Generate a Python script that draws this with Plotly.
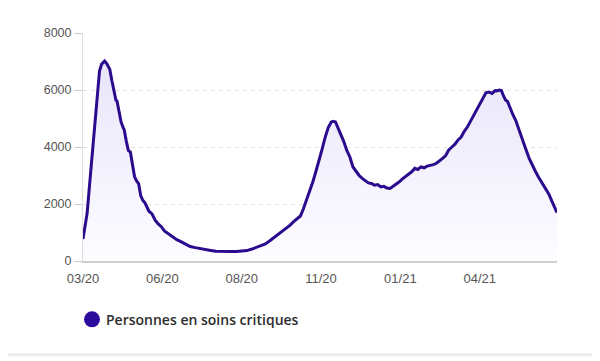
import plotly.graph_objects as go

dates = [
    "2020-03-18", "2020-03-20", "2020-03-22", "2020-03-24", "2020-03-26", "2020-03-28",
    "2020-03-30", "2020-04-01", "2020-04-03", "2020-04-05", "2020-04-08", "2020-04-10",
    "2020-04-12", "2020-04-13", "2020-04-15", "2020-04-17", "2020-04-19", "2020-04-20",
    "2020-04-22", "2020-04-24", "2020-04-26", "2020-04-27", "2020-04-29", "2020-05-01",
    "2020-05-03", "2020-05-05", "2020-05-07", "2020-05-09", "2020-05-11", "2020-05-13",
    "2020-05-15", "2020-05-17", "2020-05-19", "2020-05-21", "2020-05-24", "2020-05-27",
    "2020-05-30", "2020-06-02", "2020-06-05", "2020-06-09", "2020-06-13", "2020-06-17",
    "2020-06-21", "2020-06-25", "2020-06-30", "2020-07-05", "2020-07-10", "2020-07-15",
    "2020-07-20", "2020-07-25", "2020-07-30", "2020-08-04", "2020-08-09", "2020-08-14",
    "2020-08-19", "2020-08-24", "2020-08-29", "2020-09-03", "2020-09-07", "2020-09-11",
    "2020-09-15", "2020-09-19", "2020-09-23", "2020-09-27", "2020-10-01", "2020-10-05",
    "2020-10-09", "2020-10-12", "2020-10-15", "2020-10-18", "2020-10-21", "2020-10-24",
    "2020-10-27", "2020-10-30", "2020-11-02", "2020-11-05", "2020-11-08", "2020-11-11",
    "2020-11-14", "2020-11-16", "2020-11-18", "2020-11-20", "2020-11-23", "2020-11-26",
    "2020-11-29", "2020-12-02", "2020-12-05", "2020-12-08", "2020-12-11", "2020-12-14",
    "2020-12-17", "2020-12-20", "2020-12-23", "2020-12-26", "2020-12-29", "2021-01-01",
    "2021-01-04", "2021-01-07", "2021-01-10", "2021-01-13", "2021-01-16", "2021-01-19",
    "2021-01-22", "2021-01-25", "2021-01-28", "2021-01-31", "2021-02-03", "2021-02-06",
    "2021-02-09", "2021-02-12", "2021-02-15", "2021-02-18", "2021-02-21", "2021-02-24",
    "2021-02-27", "2021-03-02", "2021-03-05", "2021-03-08", "2021-03-11", "2021-03-14",
    "2021-03-17", "2021-03-20", "2021-03-23", "2021-03-26", "2021-03-29", "2021-04-01",
    "2021-04-04", "2021-04-07", "2021-04-10", "2021-04-13", "2021-04-16", "2021-04-19",
    "2021-04-22", "2021-04-24", "2021-04-26", "2021-04-28", "2021-04-30", "2021-05-02",
    "2021-05-04", "2021-05-06", "2021-05-09", "2021-05-12", "2021-05-15", "2021-05-18",
    "2021-05-21", "2021-05-25", "2021-05-28", "2021-05-31", "2021-06-03", "2021-06-06",
    "2021-06-10", "2021-06-13", "2021-06-16", "2021-06-19", "2021-06-21",
]

soins_critiques = [
    771, 1297, 1674, 2516, 3351, 4236,
    5107, 5922, 6662, 6900, 7019, 6930,
    6780, 6730, 6331, 5922, 5639, 5619,
    5218, 4870, 4682, 4608, 4207, 3878,
    3819, 3430, 2961, 2812, 2712, 2299,
    2132, 2046, 1894, 1745, 1655, 1429,
    1302, 1202, 1053, 950, 830, 750,
    680, 600, 510, 470, 430, 400,
    370, 340, 330, 325, 330, 335,
    340, 365, 420, 480, 530, 600,
    700, 810, 920, 1050, 1150, 1260,
    1400, 1480, 1580, 1840, 2150, 2440,
    2770, 3140, 3500, 3920, 4340, 4680,
    4880, 4903, 4880, 4700, 4500, 4200,
    3880, 3650, 3300, 3150, 3000, 2900,
    2830, 2740, 2720, 2660, 2680, 2600,
    2620, 2560, 2545, 2620, 2700, 2780,
    2880, 2960, 3070, 3130, 3250, 3210,
    3300, 3270, 3330, 3350, 3380, 3430,
    3500, 3600, 3700, 3900, 4000, 4100,
    4250, 4350, 4550, 4700, 4900, 5100,
    5300, 5550, 5750, 5900, 5930, 5880,
    5980, 5970, 6001, 5980, 5800, 5650,
    5600, 5400, 5150, 4930, 4600, 4330,
    4000, 3600, 3350, 3150, 2950, 2780,
    2545, 2350, 2100, 1880, 1700,
]

tick_dates = ["2020-03-18", "2020-06-03", "2020-08-19", "2020-11-04", "2021-01-20", "2021-04-07"]
tick_labels = ["03/20", "06/20", "08/20", "11/20", "01/21", "04/21"]
y_ticks = [0, 2000, 4000, 6000, 8000]
series_name = "Personnes en soins critiques"

LINE = "#2a0b8e"
# The page body has an 8px margin, so figure coords = page coords - 8
OFF = 8
W, H = 600 - OFF, 361 - OFF
L, T = 83 - OFF, 33 - OFF
R = W - (557 - OFF)
B = H - (261.5 - OFF)
pw, ph = W - L - R, H - T - B


def px_x(p):
    return (p - OFF - L) / pw


def px_y(p):
    return (H - B - (p - OFF)) / ph


fig = go.Figure()
fig.add_trace(go.Scatter(
    x=dates, y=soins_critiques, mode="lines",
    line=dict(color=LINE, width=3),
    fill="tozeroy",
    fillgradient=dict(type="vertical", start=0, stop=7000,
                      colorscale=[[0, "rgba(253,252,255,1)"], [1, "rgba(233,229,250,1)"]]),
    showlegend=False, hoverinfo="skip",
))

fig.update_layout(
    width=W, height=H,
    margin=dict(l=L, r=R, t=T, b=B, pad=0),
    paper_bgcolor="white", plot_bgcolor="white",
    font=dict(family="Liberation Sans, Arial, sans-serif", size=13, color="#555"),
    showlegend=False,
    xaxis=dict(
        type="date", range=[dates[0], dates[-1]],
        tickvals=tick_dates, ticktext=tick_labels,
        showgrid=False, zeroline=False,
        showline=True, linecolor="#cfcfcf", linewidth=1.5,
        ticks="outside", ticklen=5, tickcolor="rgba(0,0,0,0)",
        tickfont=dict(size=13, color="#555"),
    ),
    yaxis=dict(
        range=[0, 8000], tickvals=y_ticks,
        showgrid=True, gridcolor="#e3e3e3", griddash="4px,4px", gridwidth=1,
        zeroline=False, showline=True, linecolor="#dddddd", linewidth=1,
        ticks="outside", ticklen=8, tickcolor="#cfcfcf",
        tickfont=dict(size=12.5, color="#555"),
    ),
)

# Legend (circle + label)
fig.add_shape(type="circle", xref="paper", yref="paper",
              xsizemode="pixel", ysizemode="pixel",
              xanchor=px_x(92), yanchor=px_y(320),
              x0=-8, x1=8, y0=-8, y1=8,
              fillcolor="#2b0a9c", line=dict(width=0))
fig.add_annotation(xref="paper", yref="paper", x=px_x(104), y=px_y(320),
                   xanchor="left", yanchor="middle", showarrow=False,
                   text=series_name,
                   font=dict(family="Open Sans, sans-serif", size=14, color="#2d2d2d", weight=600))

# bottom border line
fig.add_shape(type="line", xref="paper", yref="paper",
              x0=px_x(OFF), x1=px_x(600), y0=px_y(355.5), y1=px_y(355.5),
              line=dict(color="#ececec", width=3))

fig.write_html("out.html")
